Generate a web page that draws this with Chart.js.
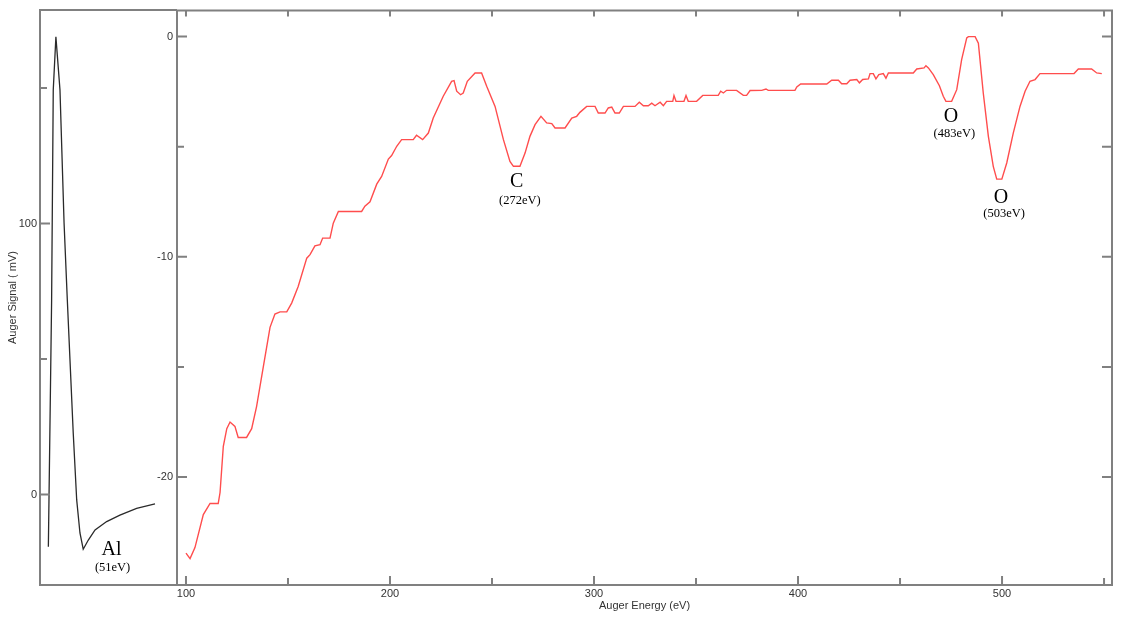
<!DOCTYPE html>
<html>
<head>
<meta charset="utf-8">
<script src="https://cdn.jsdelivr.net/npm/chart.js@4.4.1/dist/chart.umd.min.js"></script>
<style>
  html, body { margin: 0; padding: 0; background: #fff; }
  #wrap { position: relative; width: 1124px; height: 621px; overflow: hidden; }
  #wrap canvas { position: absolute; left: 0; top: 0; }
</style>
</head>
<body>
<div id="wrap">
  <canvas id="alChart" width="1124" height="621"></canvas>
  <canvas id="surveyChart" width="1124" height="621"></canvas>
</div>
<script>
// Al LVV window (left panel), signal in mV
const alEnergy = [34.1, 35.7, 36.5, 37.8, 39.8, 41.8, 43.4, 46.3, 48.0, 49.6, 51.2, 53.7, 57.0, 62.7, 69.2, 77.4, 86.4];
const alSignal = [-19.3, 71.8, 149.3, 168.9, 149.3, 100.3, 71.8, 22.7, -2.0, -14.2, -20.2, -16.8, -13.1, -10.0, -7.6, -5.1, -3.5];

// survey 100..550 eV (right panel)
const surveyEnergy = [
  100, 102, 104.4, 108.5, 111.8, 115.8, 116.7, 118.3, 120, 121.6, 124, 125.6, 129.7, 132.2, 134.6, 137.9,
  141.2, 143.6, 146.1, 149.4, 151.8, 155, 159.2, 160.8, 163.2, 165.7, 167, 170.6, 172.2, 174.7, 186.1, 187.7,
  190.2, 193.5, 195.9, 199.2, 200.8, 203.3, 205.7, 211.4, 213, 216, 218.8, 221.2, 226.1, 230.2, 231.4, 232.7,
  234.6, 235.9, 237.9, 241.7, 244.9, 247.4, 251.5, 255.6, 258.8, 260.5, 263.7, 266.2, 268.6, 271.1, 274, 276.8,
  279.3, 280.9, 285.8, 289.1, 291.5, 293.1, 296.4, 300.5, 302.1, 305.4, 307, 308.7, 310.3, 312.4, 314.4, 320.1,
  322.2, 324.2, 326.6, 328.3, 329.9, 332.4, 334, 335.6, 338.6, 339.2, 340.2, 344.1, 345.1, 346.2, 350.3, 353.3,
  360.9, 362.1, 363.4, 365, 369.9, 373.2, 374.8, 376.5, 382.2, 384.3, 385.4, 398.5, 399.4, 401.3, 414.1, 416.5,
  419.8, 421.4, 423.9, 425.5, 428.8, 430.1, 431.7, 434.5, 435.3, 436.9, 438.2, 439.6, 441.8, 443.1, 444.3, 456.5,
  458.2, 461.8, 462.7, 463.9, 466.3, 469.3, 471.2, 472.5, 475.3, 477.8, 480.2, 482.7, 483.5, 486.8, 488.4, 490.8,
  493.3, 495.7, 497.4, 499.9, 502.3, 505.5, 508.8, 511.3, 513.7, 516.2, 518.6, 535.3, 537.4, 543.9, 546.4, 548.9
];
const surveySignal = [
  -23.45, -23.7, -23.2, -21.7, -21.2, -21.2, -20.7, -18.6, -17.8, -17.5, -17.7, -18.2, -18.2, -17.8, -16.8, -15.0,
  -13.2, -12.6, -12.5, -12.5, -12.1, -11.35, -10.06, -9.9, -9.5, -9.45, -9.15, -9.15, -8.47, -7.94, -7.94, -7.7,
  -7.5, -6.7, -6.35, -5.56, -5.4, -4.98, -4.68, -4.68, -4.48, -4.68, -4.38, -3.7, -2.71, -2.03, -2.0, -2.48,
  -2.64, -2.56, -2.03, -1.65, -1.65, -2.26, -3.17, -4.68, -5.67, -5.89, -5.89, -5.29, -4.53, -4.0, -3.62, -3.92,
  -3.95, -4.15, -4.15, -3.7, -3.62, -3.44, -3.17, -3.17, -3.47, -3.47, -3.24, -3.2, -3.47, -3.47, -3.17, -3.17,
  -2.98, -3.14, -3.14, -3.02, -3.14, -2.98, -3.14, -2.94, -2.94, -2.68, -2.94, -2.94, -2.68, -2.94, -2.94, -2.67,
  -2.67, -2.48, -2.56, -2.44, -2.44, -2.67, -2.67, -2.45, -2.44, -2.38, -2.44, -2.44, -2.29, -2.15, -2.15, -1.98,
  -1.98, -2.14, -2.14, -1.98, -1.95, -2.1, -1.95, -1.92, -1.68, -1.68, -1.92, -1.73, -1.68, -1.89, -1.65, -1.65,
  -1.47, -1.42, -1.32, -1.42, -1.73, -2.23, -2.71, -2.94, -2.94, -2.41, -1.05, -0.06, 0, 0, -0.3, -2.56,
  -4.53, -5.89, -6.47, -6.47, -5.74, -4.38, -3.17, -2.48, -2.03, -1.95, -1.68, -1.68, -1.47, -1.47, -1.65, -1.68
];

// tick values
const alTicks = [0, 50, 100, 150];
const energyTicks = [100, 150, 200, 250, 300, 350, 400, 450, 500, 550];
const signalTicks = [-20, -15, -10, -5, 0];

// peak labels: element, energy note, anchor (eV, signal) for each line of text
const alLabel = ['Al', '(51eV)'];
const alLabelAt = [[65.1, -20.5], [65.6, -26.9]];
const peakNames = ['C', 'O', 'O'];
const peakNotes = ['(272eV)', '(483eV)', '(503eV)'];
const peakNameAt = [[262.1, -6.61], [475.0, -3.66], [499.5, -7.32]];
const peakNoteAt = [[263.7, -7.44], [476.6, -4.39], [501.0, -8.04]];

const GREY = '#808080';
const TEXT = '#333';
const SANS = '"Liberation Sans", Arial, sans-serif';
const SERIF = '"Liberation Serif", "Times New Roman", serif';

Chart.defaults.font.family = SANS;
Chart.defaults.font.size = 11;
Chart.defaults.color = TEXT;

function pts(xs, ys) {
  return xs.map((x, i) => ({ x: x, y: ys[i] }));
}

function tickLine(ctx, x1, y1, x2, y2) {
  ctx.moveTo(x1, y1);
  ctx.lineTo(x2, y2);
}

// frame + inward ticks, drawn from the chart scales
const alFrame = {
  id: 'alFrame',
  afterDatasetsDraw(chart) {
    const { ctx, chartArea: a, scales: { y } } = chart;
    ctx.save();
    ctx.strokeStyle = GREY;
    ctx.lineWidth = 2;
    ctx.beginPath();
    tickLine(ctx, a.right, a.top, a.left, a.top);
    ctx.lineTo(a.left, a.bottom);
    ctx.lineTo(a.right, a.bottom);
    alTicks.forEach(v => {
      const py = y.getPixelForValue(v);
      tickLine(ctx, a.left, py, a.left + (v % 100 === 0 ? 10 : 7), py);
    });
    ctx.stroke();
    ctx.fillStyle = '#000';
    ctx.textAlign = 'center';
    ctx.textBaseline = 'middle';
    ctx.font = '20px ' + SERIF;
    ctx.fillText(alLabel[0], chart.scales.x.getPixelForValue(alLabelAt[0][0]), y.getPixelForValue(alLabelAt[0][1]));
    ctx.font = '12.5px ' + SERIF;
    ctx.fillText(alLabel[1], chart.scales.x.getPixelForValue(alLabelAt[1][0]), y.getPixelForValue(alLabelAt[1][1]));
    ctx.restore();
  }
};

const surveyFrame = {
  id: 'surveyFrame',
  afterDatasetsDraw(chart) {
    const { ctx, chartArea: a, scales: { x, y } } = chart;
    ctx.save();
    ctx.strokeStyle = GREY;
    ctx.lineWidth = 2;
    ctx.beginPath();
    ctx.rect(a.left, a.top, a.right - a.left, a.bottom - a.top);
    energyTicks.forEach(v => {
      const px = x.getPixelForValue(v);
      tickLine(ctx, px, a.bottom, px, a.bottom - (v % 100 === 0 ? 9 : 7));
      tickLine(ctx, px, a.top, px, a.top + 6);
    });
    signalTicks.forEach(v => {
      const py = y.getPixelForValue(v);
      tickLine(ctx, a.left, py, a.left + (v % 10 === 0 ? 10 : 7), py);
      tickLine(ctx, a.right, py, a.right - 10, py);
    });
    ctx.stroke();

    ctx.fillStyle = '#000';
    ctx.textAlign = 'center';
    ctx.textBaseline = 'middle';
    peakNames.forEach((t, i) => {
      ctx.font = '20px ' + SERIF;
      ctx.fillText(t, x.getPixelForValue(peakNameAt[i][0]), y.getPixelForValue(peakNameAt[i][1]));
      ctx.font = '12.5px ' + SERIF;
      ctx.fillText(peakNotes[i], x.getPixelForValue(peakNoteAt[i][0]), y.getPixelForValue(peakNoteAt[i][1]));
    });
    ctx.restore();
  }
};

new Chart(document.getElementById('alChart'), {
  type: 'line',
  data: {
    datasets: [{
      data: pts(alEnergy, alSignal),
      borderColor: '#2a2a2a',
      borderWidth: 1.3,
      pointRadius: 0,
      tension: 0
    }]
  },
  options: {
    responsive: false,
    animation: false,
    events: [],
    layout: { padding: { left: 0, top: 10, right: 947, bottom: 36 } },
    scales: {
      x: { type: 'linear', min: 30, max: 97.2, display: false },
      y: {
        min: -33.4, max: 178.8,
        afterFit: s => { s.width = 40; },
        afterBuildTicks: s => { s.ticks = alTicks.map(v => ({ value: v })); },
        grid: { display: false, drawTicks: false },
        border: { display: false },
        ticks: { padding: 3, callback: v => (v % 100 === 0 ? v : '') },
        title: { display: true, text: 'Auger Signal ( mV)', padding: { top: 6, bottom: 0 } }
      }
    },
    plugins: { legend: { display: false }, tooltip: { enabled: false } }
  },
  plugins: [alFrame]
});

new Chart(document.getElementById('surveyChart'), {
  type: 'line',
  data: {
    datasets: [{
      data: pts(surveyEnergy, surveySignal),
      borderColor: '#ff4d4d',
      borderWidth: 1.4,
      pointRadius: 0,
      tension: 0
    }]
  },
  options: {
    responsive: false,
    animation: false,
    events: [],
    layout: { padding: { left: 127, top: 10, right: 12, bottom: 0 } },
    scales: {
      x: {
        type: 'linear', min: 95.6, max: 553.9,
        afterFit: s => { s.height = 36; },
        afterBuildTicks: s => { s.ticks = energyTicks.map(v => ({ value: v })); },
        grid: { display: false, drawTicks: false },
        border: { display: false },
        ticks: { padding: 2, maxRotation: 0, autoSkip: false, callback: v => (v % 100 === 0 ? v : '') },
        title: { display: true, text: 'Auger Energy (eV)', padding: { top: 0, bottom: 8 } }
      },
      y: {
        min: -24.9, max: 1.18,
        afterFit: s => { s.width = 50; },
        afterBuildTicks: s => { s.ticks = signalTicks.map(v => ({ value: v })); },
        grid: { display: false, drawTicks: false },
        border: { display: false },
        ticks: { padding: 4, callback: v => (v % 10 === 0 ? v : '') }
      }
    },
    plugins: { legend: { display: false }, tooltip: { enabled: false } }
  },
  plugins: [surveyFrame]
});
</script>
</body>
</html>
